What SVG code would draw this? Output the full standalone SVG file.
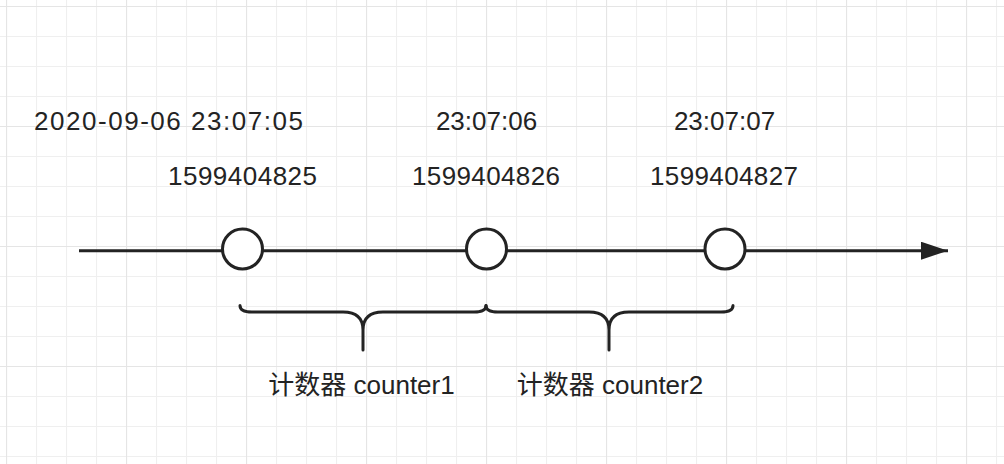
<svg xmlns="http://www.w3.org/2000/svg" width="1004" height="464" viewBox="0 0 1004 464">
  <defs>
    <pattern id="minor" x="6" y="6" width="30" height="30" patternUnits="userSpaceOnUse">
      <path d="M0,0.5 H30 M0.5,0 V30" fill="none" stroke="#efefef" stroke-width="1.2"/>
    </pattern>
    <pattern id="major" x="6" y="6" width="120" height="120" patternUnits="userSpaceOnUse">
      <path d="M0,0.5 H120 M0.5,0 V120" fill="none" stroke="#e5e5e5" stroke-width="1.2"/>
    </pattern>
    <marker id="arrow" markerUnits="userSpaceOnUse" markerWidth="30" markerHeight="20" refX="27" refY="9" orient="auto" viewBox="0 0 30 20">
      <path d="M0,0 L27,9 L0,18 Z" fill="#232323"/>
    </marker>
    <style>
      .lbl { font-family: "Liberation Sans", "Noto Sans CJK SC", sans-serif; font-size: 26px; fill: #232323; text-anchor: middle; }
      .ln { fill: none; stroke: #232323; stroke-width: 3; stroke-linecap: butt; }
      .node { fill: #ffffff; stroke: #232323; stroke-width: 3; }
      .brace { fill: none; stroke: #232323; stroke-width: 3; stroke-linecap: round; stroke-linejoin: round; }
    </style>
  </defs>
  <rect width="1004" height="464" fill="#ffffff"/>
  <rect width="1004" height="464" fill="url(#minor)"/>
  <rect width="1004" height="464" fill="url(#major)"/>

  <g id="connectors">
    <path class="ln" d="M79,250.7 H948" marker-end="url(#arrow)"/>
    <path id="brace1" class="brace" d="M240,305.5 Q240,312 252,312 H343 Q363,312 363,330 V350 M363,330 Q363,312 383,312 H474 Q486,312 486,305.5"/>
    <path id="brace2" class="brace" d="M486,305.5 Q486,312 498,312 H589 Q609,312 609,330 V350 M609,330 Q609,312 629,312 H721 Q733,312 733,305.5"/>
  </g>

  <g id="node-t1">
    <circle class="node" cx="242.5" cy="249" r="20"/>
  </g>
  <g id="node-t2">
    <circle class="node" cx="486.5" cy="249" r="20"/>
  </g>
  <g id="node-t3">
    <circle class="node" cx="725" cy="249" r="20"/>
  </g>

  <g id="label-time1">
    <text class="lbl" x="168.5" y="129.5" textLength="269" lengthAdjust="spacing">2020-09-06 23:07:05</text>
  </g>
  <g id="label-time2">
    <text class="lbl" x="486.5" y="129.5">23:07:06</text>
  </g>
  <g id="label-time3">
    <text class="lbl" x="724.5" y="129.5">23:07:07</text>
  </g>
  <g id="label-ts1">
    <text class="lbl" x="242.5" y="185" textLength="149" lengthAdjust="spacing">1599404825</text>
  </g>
  <g id="label-ts2">
    <text class="lbl" x="486" y="185" textLength="148" lengthAdjust="spacing">1599404826</text>
  </g>
  <g id="label-ts3">
    <text class="lbl" x="724" y="185" textLength="148" lengthAdjust="spacing">1599404827</text>
  </g>
  <g id="label-counter1">
    <text class="lbl" x="361.5" y="394">计数器 counter1</text>
  </g>
  <g id="label-counter2">
    <text class="lbl" x="610" y="394">计数器 counter2</text>
  </g>
</svg>
